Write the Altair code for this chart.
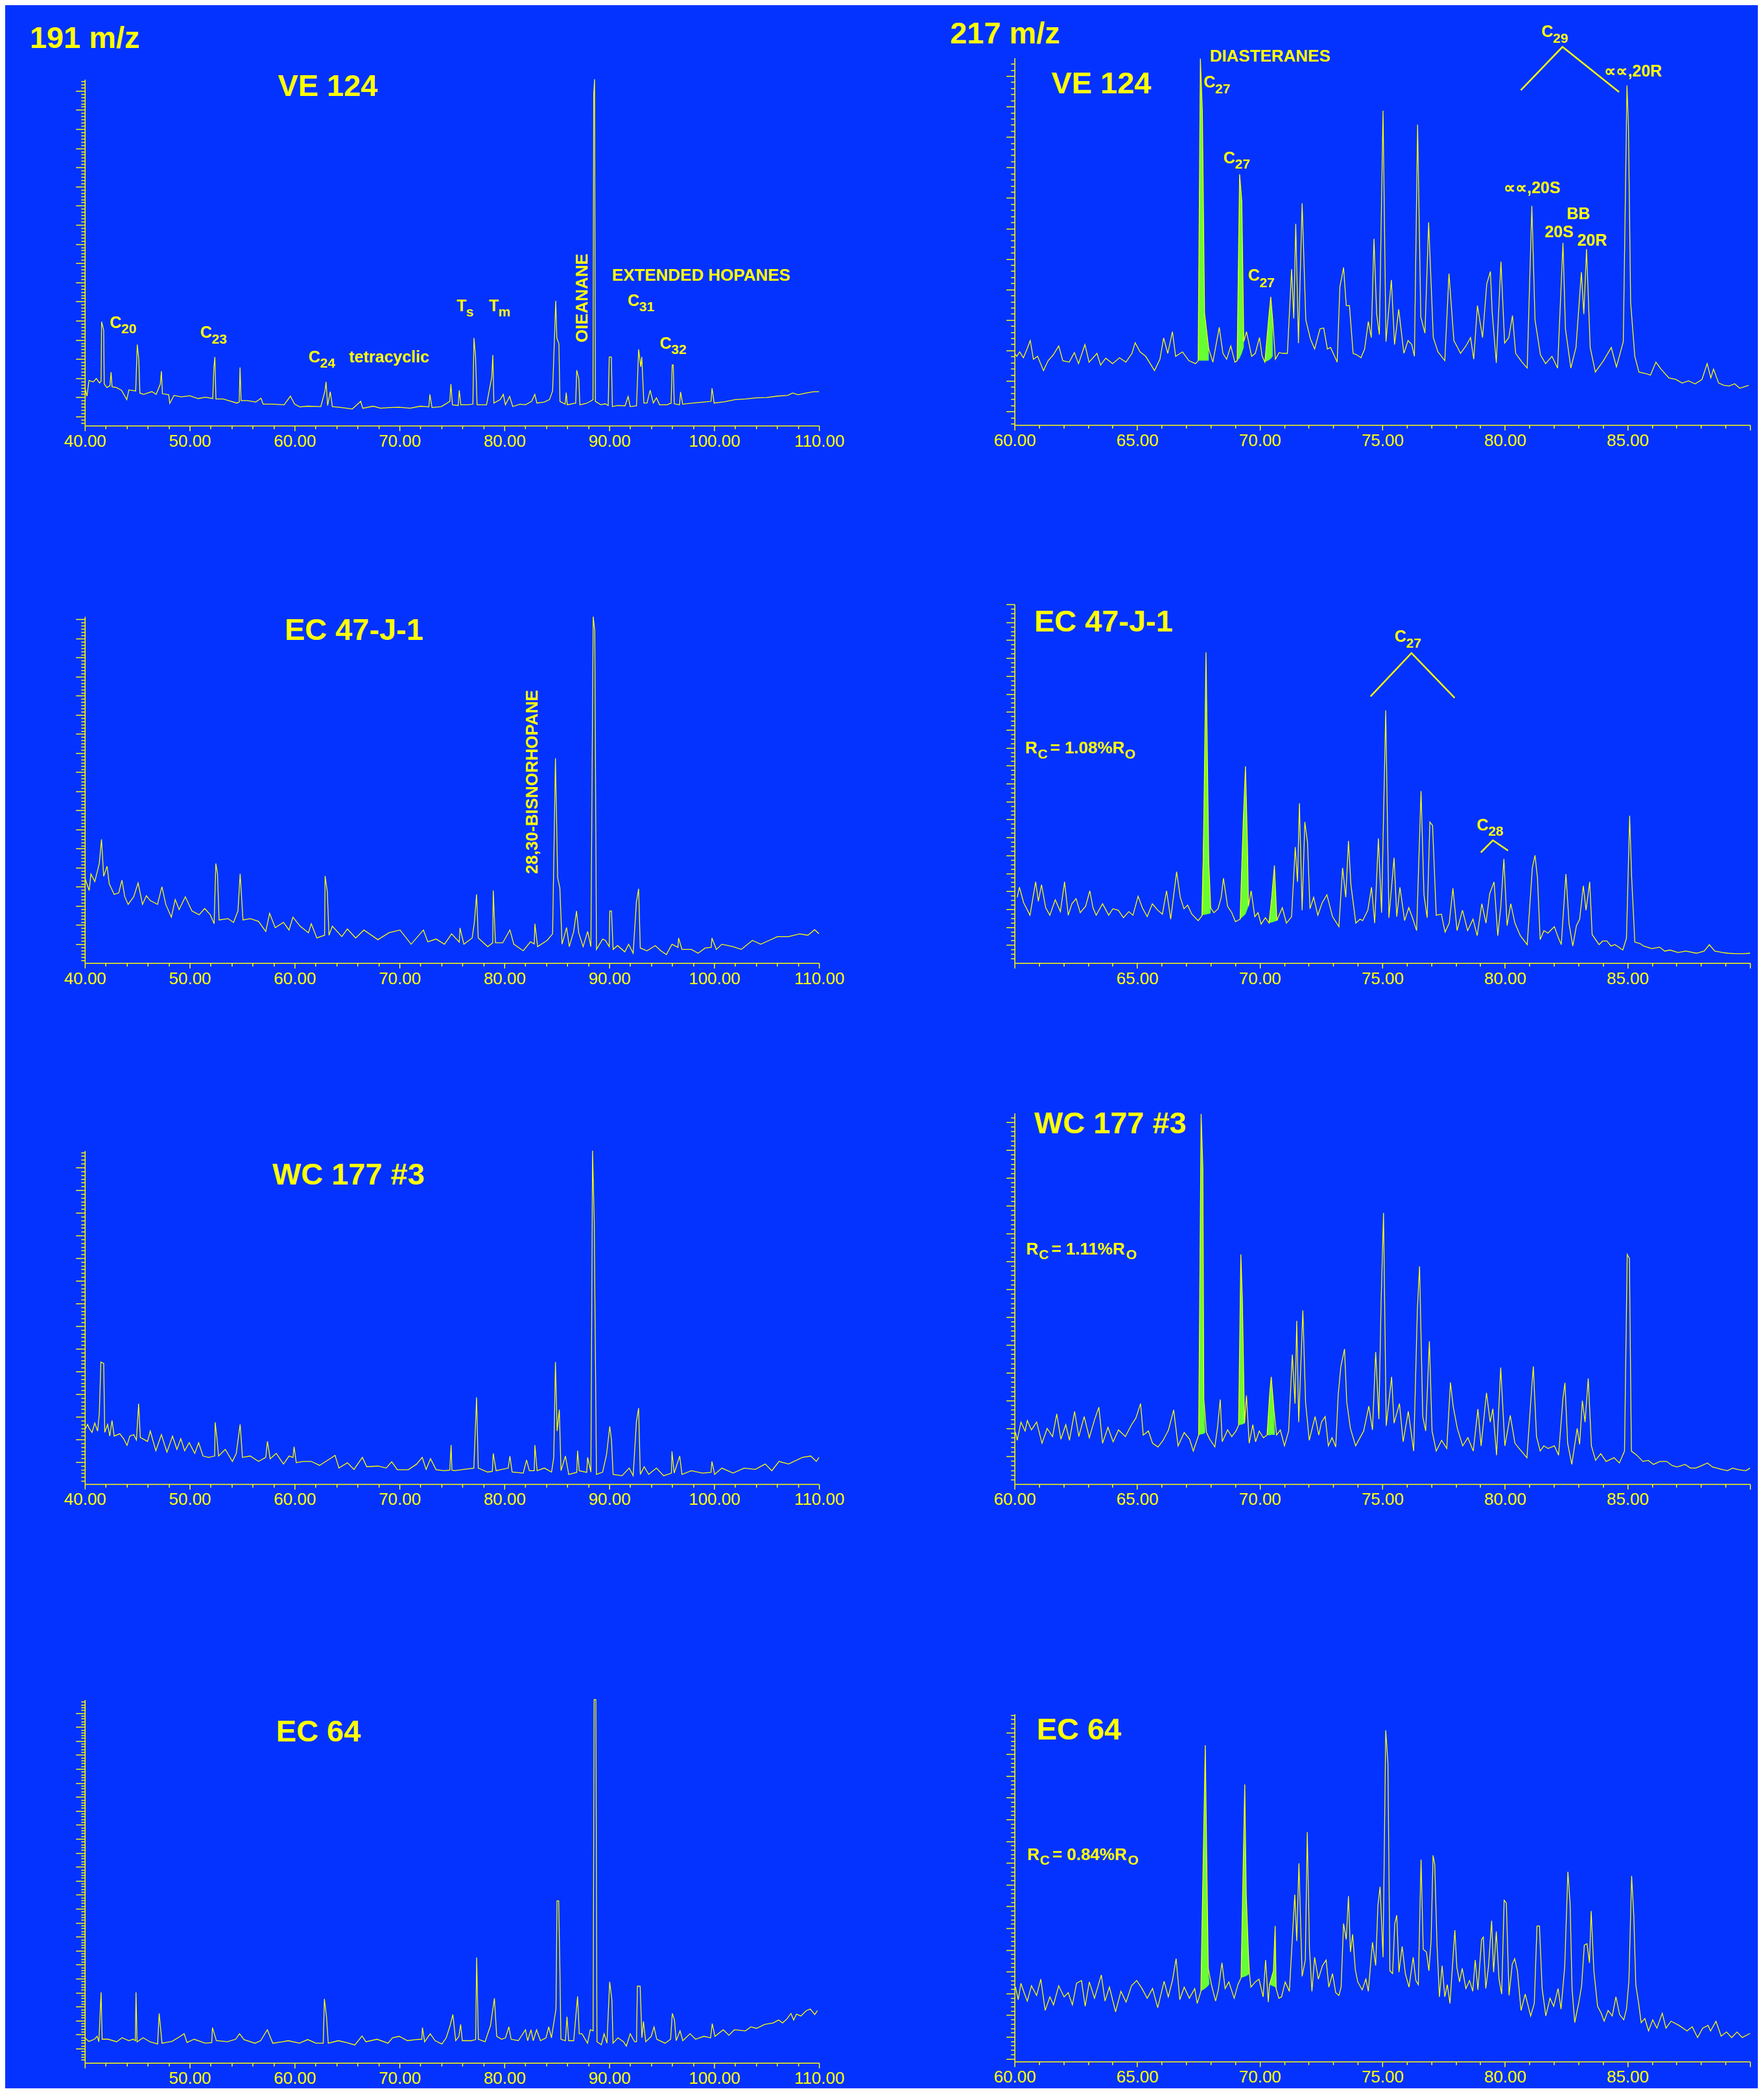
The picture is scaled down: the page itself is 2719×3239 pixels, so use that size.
import altair as alt
import pandas as pd

BLUE = "#0433FF"
YEL = "#FFFF00"
GREEN = "#66FF33"
FONT = "Liberation Sans, Arial, Helvetica, sans-serif"

# ---------------- 191 m/z traces (retention time, relative intensity %) ----------------
L1 = [(40.0,11.0),(40.2,8.5),(40.4,13.0),(40.8,12.6),(41.1,13.6),(41.4,12.3),(41.55,12.8),(41.6,30.0),(41.8,27.5),(41.85,12.0),
(42.1,11.0),(42.4,11.5),(42.5,15.4),(42.6,11.2),(43.0,11.0),(43.5,10.2),(44.0,7.5),(44.2,10.3),(44.85,10.0),(45.0,23.4),
(45.15,19.0),(45.25,9.4),(45.6,9.0),(46.0,9.4),(46.4,9.8),(46.8,9.0),(47.2,12.0),(47.3,15.7),(47.4,9.2),(48.0,8.9),
(48.1,6.4),(48.5,8.7),(49.2,8.3),(50.0,8.6),(50.8,7.8),(51.5,8.2),(52.2,7.8),(52.3,16.5),(52.4,19.8),(52.5,7.7),
(53.2,7.7),(53.6,7.3),(54.5,6.5),(54.72,6.8),(54.8,16.8),(54.9,7.2),(55.5,7.2),(56.3,6.8),(56.8,7.9),(57.0,6.2),
(58.0,6.2),(59.0,6.0),(59.6,8.5),(60.0,6.2),(60.5,5.4),(61.2,5.6),(62.5,5.5),(62.9,10.0),(63.0,12.6),(63.15,5.8),
(63.4,9.8),(63.6,5.5),(64.5,5.2),(65.5,4.8),(66.3,7.0),(66.5,5.0),(67.5,5.6),(68.2,5.0),(69.0,5.2),(70.0,5.3),
(71.0,5.0),(72.0,5.6),(72.8,5.4),(72.9,9.0),(73.1,5.2),(74.0,5.5),(74.8,7.0),(74.9,12.0),(75.05,6.0),(75.6,5.8),
(75.7,10.2),(75.85,6.0),(76.5,6.0),(77.0,6.2),(77.1,25.3),(77.25,20.0),(77.4,6.0),(78.3,6.0),(78.8,14.0),(78.9,20.4),
(79.0,6.5),(79.6,7.5),(79.9,9.0),(80.1,6.0),(80.5,8.4),(80.8,5.5),(81.5,6.2),(82.0,6.0),(82.6,7.0),(82.9,9.0),
(83.1,6.5),(83.8,6.8),(84.3,7.5),(84.6,10.0),(84.9,36.0),(85.0,25.3),(85.2,23.6),(85.3,7.0),(85.8,6.2),(85.9,9.5),
(86.0,6.0),(86.8,6.5),(86.9,16.0),(87.1,13.5),(87.2,6.0),(87.8,6.4),(88.2,7.0),(88.45,7.5),(88.52,95.6),(88.6,100.0),
(88.68,7.0),(89.2,6.0),(89.6,6.3),(89.9,5.8),(90.0,19.8),(90.2,19.8),(90.3,5.5),(90.8,5.8),(91.5,5.7),(91.8,8.4),
(92.0,5.5),(92.6,5.7),(92.8,22.0),(93.0,17.0),(93.1,19.8),(93.3,6.5),(93.6,6.5),(93.9,10.2),(94.2,6.5),(94.5,8.0),
(94.8,6.0),(95.5,6.0),(95.9,6.5),(96.0,17.5),(96.1,17.5),(96.2,6.3),(96.7,6.0),(96.8,9.7),(97.0,6.2),(98.0,6.5),
(99.0,6.8),(99.7,7.0),(99.8,10.8),(100.0,6.5),(101.0,6.9),(102.0,7.5),(103.0,7.7),(104.0,8.0),(105.0,8.1),(106.0,8.5),
(107.0,8.7),(107.5,9.4),(108.0,8.9),(108.8,9.4),(109.5,9.8),(110.0,9.8)]

L2 = [(40.0,24.6),(40.16,23.1),(40.42,20.9),(40.58,25.7),(40.95,23.5),(41.38,28.7),(41.59,35.7),(41.8,25.0),(42.12,27.9),(42.33,22.8),
(42.8,19.8),(43.23,20.2),(43.54,23.9),(43.81,19.1),(44.13,16.9),(44.66,19.1),(45.08,23.1),(45.5,16.9),(45.87,19.4),(46.24,18.0),
(46.93,16.9),(47.35,22.0),(47.72,16.9),(48.25,13.2),(48.62,18.3),(48.99,15.4),(49.58,19.1),(50.21,15.0),(50.9,13.9),(51.43,15.7),
(51.96,13.9),(52.33,11.3),(52.49,28.7),(52.65,25.7),(52.8,12.4),(53.65,12.8),(54.18,11.7),(54.6,15.0),(54.81,25.7),(55.08,12.4),
(55.77,12.8),(56.56,12.0),(57.25,9.1),(57.62,14.3),(58.15,10.2),(58.94,11.7),(59.47,9.5),(59.84,13.2),(60.53,10.6),(61.32,8.7),
(61.59,11.3),(62.12,7.2),(62.86,8.0),(62.91,25.1),(63.12,20.5),(63.28,8.0),(63.6,10.6),(64.5,7.6),(65.03,9.8),(65.82,7.2),
(66.61,9.5),(67.94,6.7),(69.0,8.7),(70.05,9.5),(71.11,5.4),(72.28,9.5),(72.7,6.1),(73.49,6.9),(74.29,5.4),(74.97,8.4),
(75.7,6.0),(75.77,10.1),(76.14,5.4),(76.93,7.2),(77.14,11.7),(77.35,19.8),(77.51,7.2),(78.41,4.7),(78.89,5.8),(78.94,20.9),
(79.15,5.8),(79.84,5.8),(80.53,9.5),(80.9,5.4),(81.8,3.5),(82.49,6.1),(82.85,5.5),(82.91,11.3),(83.17,4.7),(84.07,6.5),
(84.6,8.4),(84.87,59.1),(85.08,24.6),(85.29,21.7),(85.5,5.4),(85.93,10.2),(86.19,4.7),(86.61,9.1),(86.88,15.0),(87.09,8.7),
(87.51,4.7),(87.94,9.1),(88.25,4.7),(88.47,100.0),(88.62,95.9),(88.78,3.9),(89.37,6.9),(89.63,6.5),(90.0,4.7),(90.05,15.0),
(90.21,15.0),(90.37,3.9),(90.79,5.0),(91.48,3.2),(91.85,5.4),(92.28,2.8),(92.59,17.6),(92.8,21.4),(92.96,4.3),(93.6,3.5),
(94.39,5.0),(94.92,3.5),(95.45,2.4),(95.98,5.4),(96.55,4.5),(96.61,7.2),(96.93,3.9),(97.83,3.9),(98.47,2.8),(99.15,4.3),
(99.72,4.5),(99.79,7.2),(100.21,3.9),(100.74,5.4),(101.8,4.7),(102.59,3.9),(103.65,6.5),(104.44,5.4),(105.24,6.5),(106.03,7.6),
(107.09,7.6),(108.15,8.4),(108.94,8.0),(109.58,9.6),(110.0,8.4)]

L3 = [(40.0,16.3),(40.26,17.9),(40.42,16.7),(40.69,15.5),(40.95,18.3),(41.22,15.9),(41.38,21.1),(41.53,36.6),(41.8,36.2),(41.9,15.5),
(42.17,17.9),(42.38,14.4),(42.59,19.1),(42.8,14.4),(43.33,15.1),(43.7,13.6),(44.02,11.6),(44.29,14.4),(44.66,14.8),(44.92,13.2),
(45.13,24.1),(45.29,14.0),(45.98,12.8),(46.24,15.9),(46.77,10.0),(47.3,14.8),(47.83,9.6),(48.36,14.4),(48.78,10.4),(49.15,13.6),
(49.52,10.0),(49.95,12.4),(50.48,9.2),(50.85,12.4),(51.27,8.4),(51.8,8.0),(52.38,8.4),(52.43,18.5),(52.59,14.0),(52.75,8.4),
(53.39,10.4),(54.07,6.8),(54.44,9.2),(54.81,17.9),(55.03,8.0),(55.77,8.4),(56.56,6.8),(57.25,8.0),(57.41,12.8),(57.67,7.6),
(58.25,9.2),(58.94,6.0),(59.47,8.4),(59.85,8.0),(59.95,11.2),(60.16,6.4),(60.79,6.8),(61.59,6.8),(62.38,5.6),(63.17,7.2),
(63.86,8.6),(64.23,4.8),(65.03,6.4),(65.66,4.4),(66.46,8.0),(66.88,5.2),(67.94,5.4),(68.73,4.8),(69.26,6.7),(69.79,4.3),
(70.85,4.3),(71.64,6.0),(72.17,8.0),(72.54,4.4),(72.96,7.6),(73.49,4.3),(74.29,4.0),(74.8,4.2),(74.92,11.7),(75.0,4.2),
(75.24,4.0),(76.14,4.4),(77.09,4.8),(77.35,26.0),(77.51,4.8),(78.41,3.6),(78.85,3.8),(78.94,9.2),(79.21,4.0),(80.37,4.8),
(80.53,8.4),(80.74,3.6),(81.8,3.3),(82.12,7.2),(82.38,4.0),(82.85,4.0),(82.91,11.7),(83.12,4.0),(83.81,4.8),(84.5,3.6),
(84.71,8.0),(84.87,36.6),(85.03,15.9),(85.24,22.3),(85.4,4.0),(85.82,8.4),(86.14,2.9),(86.9,3.5),(86.98,10.0),(87.14,4.0),
(87.85,3.5),(87.94,8.0),(88.25,3.6),(88.41,100.0),(88.57,78.2),(88.78,2.9),(89.37,3.6),(89.74,8.8),(90.05,17.3),(90.21,13.2),
(90.37,2.9),(91.22,2.5),(91.9,4.8),(92.28,2.5),(92.59,18.7),(92.8,22.8),(92.96,2.9),(93.33,5.2),(93.76,2.9),(94.5,4.8),
(95.19,2.5),(95.93,3.3),(95.98,9.8),(96.19,3.3),(96.72,8.4),(96.93,2.9),(97.83,4.0),(98.89,3.3),(99.7,3.5),(99.79,6.8),
(100.05,2.9),(100.74,4.8),(101.8,3.3),(102.86,4.8),(103.92,4.4),(104.87,6.0),(105.5,4.0),(106.19,6.8),(107.09,6.0),(108.41,8.0),
(109.21,8.4),(109.74,6.8),(110.0,8.0)]

L4 = [(40.0,6.9),(40.39,5.9),(40.91,6.5),(41.18,7.3),(41.34,5.8),(41.55,19.4),(41.65,6.5),(42.23,6.5),(43.03,5.8),(43.56,6.9),
(44.19,6.1),(44.61,6.5),(44.82,6.1),(44.88,19.4),(44.98,5.8),(45.56,6.9),(46.2,5.8),(46.94,5.2),(47.09,13.6),(47.36,5.4),
(48.31,5.9),(49.1,7.3),(49.47,8.0),(49.74,5.6),(50.42,6.5),(51.48,5.4),(52.1,5.6),(52.17,9.7),(52.54,6.1),(53.59,5.8),
(54.38,6.5),(54.75,8.0),(55.18,6.4),(56.23,5.4),(56.76,6.1),(57.4,9.1),(57.92,5.4),(58.87,5.8),(59.4,6.1),(60.46,5.4),
(61.25,6.4),(62.04,5.4),(62.73,5.4),(62.84,17.6),(63.05,12.5),(63.21,5.4),(64.16,6.1),(64.95,5.6),(65.74,4.9),(66.43,7.4),
(66.8,5.8),(67.86,6.5),(68.91,5.4),(69.33,6.9),(69.97,7.3),(70.76,6.1),(71.55,6.4),(72.13,6.5),(72.19,9.7),(72.4,5.8),
(72.93,8.0),(73.4,6.1),(74.04,5.2),(74.46,6.9),(74.83,10.3),(75.09,13.3),(75.36,6.1),(75.67,7.3),(75.83,10.6),(75.99,6.1),
(76.84,6.1),(77.26,6.4),(77.36,29.0),(77.52,6.5),(78.16,5.8),(78.68,10.3),(79.05,17.8),(79.27,7.3),(79.74,6.5),(80.11,6.9),
(80.43,9.9),(80.64,6.5),(81.33,6.1),(82.01,9.1),(82.22,6.1),(82.54,9.1),(82.75,6.1),(83.07,9.1),(83.44,6.1),(83.97,6.9),
(84.23,9.9),(84.49,6.9),(84.92,14.8),(85.02,44.6),(85.18,44.6),(85.29,26.8),(85.39,6.5),(85.82,6.1),(85.97,12.7),(86.13,6.1),
(86.61,6.1),(86.98,18.3),(87.14,8.0),(87.4,8.0),(87.93,5.4),(88.19,9.1),(88.46,8.8),(88.56,100.0),(88.72,100.0),(88.83,5.8),
(89.25,5.0),(89.51,8.0),(89.78,5.4),(90.04,22.3),(90.25,17.4),(90.36,5.4),(90.83,6.9),(91.36,5.8),(91.63,4.6),(92.0,8.0),
(92.42,5.8),(92.6,5.8),(92.68,21.1),(92.95,21.1),(93.11,6.9),(93.26,11.4),(93.48,5.8),(94.0,7.3),(94.27,9.9),(94.53,6.5),
(95.32,5.4),(95.85,6.5),(96.01,13.6),(96.22,11.8),(96.38,6.1),(96.75,8.8),(97.01,6.1),(97.7,8.0),(98.23,6.5),(99.02,7.3),
(99.66,6.9),(99.82,10.8),(100.08,7.3),(100.87,9.1),(101.4,7.6),(101.93,9.1),(102.99,8.8),(103.51,9.9),(104.04,9.5),(104.83,10.6),
(105.63,11.0),(106.15,11.8),(106.52,11.0),(106.95,12.1),(107.32,13.6),(107.58,11.8),(107.85,13.4),(108.27,12.9),(108.8,14.4),(109.17,14.8),
(109.59,13.3),(109.85,14.4)]

# ---------------- 217 m/z traces ----------------
R1 = [(60.0,19.5),(60.09,18.7),(60.21,19.9),(60.36,18.3),(60.51,20.7),(60.64,23.0),(60.77,17.9),(60.94,18.7),(61.18,14.8),(61.37,17.5),
(61.58,19.1),(61.8,21.5),(61.97,17.5),(62.23,17.1),(62.44,19.7),(62.61,16.7),(62.87,21.9),(63.04,17.1),(63.36,19.5),(63.51,16.3),
(63.72,18.2),(64.0,16.7),(64.28,18.3),(64.54,17.1),(64.79,19.5),(64.92,22.4),(65.12,19.9),(65.35,18.7),(65.71,14.8),(65.93,17.9),
(66.08,23.7),(66.25,19.5),(66.44,25.4),(66.57,18.7),(66.85,19.9),(67.11,17.5),(67.38,16.7),(67.49,17.5),(67.58,99.8),(67.66,85.4),
(67.75,30.5),(67.92,20.7),(68.09,17.1),(68.35,26.6),(68.5,19.5),(68.65,17.9),(68.82,21.5),(68.99,17.1),(69.08,17.5),(69.18,68.3),
(69.27,60.9),(69.35,22.7),(69.46,25.4),(69.67,18.7),(69.82,19.5),(69.99,23.8),(70.1,18.7),(70.21,17.1),(70.36,28.6),(70.45,34.9),
(70.53,28.6),(70.64,17.9),(70.79,19.7),(70.96,19.5),(71.13,19.5),(71.3,42.4),(71.39,29.0),(71.47,54.8),(71.58,22.3),(71.73,60.4),
(71.88,28.6),(72.07,23.4),(72.24,20.7),(72.46,26.2),(72.61,26.4),(72.76,20.7),(72.89,21.1),(73.16,17.1),(73.27,37.6),(73.42,42.9),
(73.53,32.5),(73.66,32.5),(73.81,19.5),(73.96,19.1),(74.13,18.3),(74.28,20.7),(74.43,28.2),(74.55,23.8),(74.66,50.7),(74.77,30.2),
(74.88,24.6),(75.03,85.6),(75.15,22.7),(75.37,39.5),(75.5,21.9),(75.67,31.5),(75.88,19.5),(76.05,23.0),(76.2,21.9),(76.31,18.7),
(76.44,81.8),(76.57,29.4),(76.74,25.0),(76.89,55.2),(77.08,23.8),(77.27,19.9),(77.55,17.5),(77.72,41.2),(77.92,23.0),(78.07,21.1),
(78.19,19.5),(78.41,21.5),(78.6,23.8),(78.73,17.9),(78.88,32.5),(79.09,23.8),(79.26,38.4),(79.41,41.8),(79.48,30.9),(79.65,16.9),
(79.84,44.5),(79.99,22.3),(80.16,23.8),(80.31,29.8),(80.44,19.5),(80.7,17.1),(80.91,15.5),(81.1,59.7),(81.23,28.6),(81.45,19.1),
(81.66,16.7),(81.92,18.7),(82.15,15.5),(82.37,49.6),(82.47,26.2),(82.69,15.5),(82.9,21.1),(83.12,41.6),(83.22,30.2),(83.33,47.9),
(83.48,21.1),(83.69,14.4),(84.02,17.5),(84.34,21.1),(84.55,15.8),(84.83,22.7),(84.98,92.5),(85.04,81.5),(85.13,33.3),(85.3,18.7),
(85.47,14.4),(85.73,14.0),(85.94,13.6),(86.16,17.1),(86.37,15.2),(86.69,12.8),(86.97,12.4),(87.23,11.4),(87.49,12.0),(87.76,11.2),
(88.04,12.4),(88.25,16.7),(88.4,12.8),(88.51,15.2),(88.72,11.4),(88.94,10.8),(89.15,10.6),(89.37,11.2),(89.58,10.0),(89.94,10.8)]

R2 = [(60.11,18.3),(60.2,21.1),(60.37,16.8),(60.63,13.3),(60.86,22.6),(60.97,17.2),(61.1,21.8),(61.27,15.4),(61.44,13.3),(61.66,17.6),
(61.87,14.3),(62.04,22.6),(62.19,13.3),(62.34,16.5),(62.51,17.9),(62.68,14.0),(62.9,15.8),(63.07,20.1),(63.2,15.4),(63.33,13.3),
(63.59,16.5),(63.84,13.3),(64.01,15.1),(64.23,14.7),(64.44,12.6),(64.66,14.3),(64.83,13.3),(65.04,18.6),(65.21,15.4),(65.41,12.9),
(65.62,16.5),(65.84,14.7),(66.03,13.6),(66.2,20.1),(66.37,12.2),(66.61,25.4),(66.76,18.3),(66.91,15.1),(67.06,16.1),(67.23,13.6),
(67.49,11.8),(67.66,13.3),(67.72,39.7),(67.81,86.6),(67.92,28.3),(68.0,15.4),(68.13,14.0),(68.3,15.1),(68.43,18.3),(68.52,23.6),
(68.69,15.8),(68.86,14.0),(69.01,11.5),(69.2,12.2),(69.33,39.7),(69.42,54.8),(69.5,32.5),(69.54,15.8),(69.65,20.1),(69.8,12.9),
(69.93,14.0),(70.06,10.8),(70.23,12.6),(70.38,11.1),(70.49,18.3),(70.6,27.2),(70.7,11.8),(70.92,15.4),(71.09,11.1),(71.3,12.9),
(71.45,32.3),(71.54,22.6),(71.62,44.5),(71.73,14.7),(71.84,39.3),(71.95,33.6),(72.05,15.1),(72.2,18.3),(72.37,13.3),(72.55,16.8),
(72.74,19.0),(72.97,12.9),(73.23,10.1),(73.38,26.5),(73.51,18.3),(73.62,34.0),(73.72,21.8),(73.92,11.1),(74.09,12.2),(74.2,11.8),
(74.41,14.7),(74.56,21.1),(74.69,11.1),(74.84,34.7),(74.97,14.0),(75.14,70.4),(75.27,12.6),(75.48,29.3),(75.59,12.9),(75.72,21.1),
(75.91,11.8),(76.08,15.4),(76.23,12.6),(76.4,9.0),(76.58,47.9),(76.7,19.0),(76.83,12.6),(76.94,39.3),(77.05,38.3),(77.2,13.3),
(77.41,13.6),(77.56,8.6),(77.73,11.1),(77.88,20.8),(78.05,9.0),(78.27,14.7),(78.48,9.0),(78.7,12.2),(78.87,7.6),(79.06,16.5),
(79.23,11.1),(79.38,19.3),(79.56,22.6),(79.71,7.6),(79.83,15.4),(79.96,29.0),(80.09,10.4),(80.24,16.5),(80.41,11.1),(80.63,7.6),
(80.91,5.1),(81.12,26.5),(81.23,30.0),(81.33,23.6),(81.44,6.5),(81.59,9.0),(81.76,8.3),(81.91,9.4),(82.02,10.1),(82.17,7.2),
(82.3,5.1),(82.49,24.8),(82.62,10.8),(82.77,4.7),(82.92,10.4),(83.05,12.2),(83.2,21.5),(83.31,14.7),(83.46,22.6),(83.56,7.9),
(83.84,5.1),(83.99,6.1),(84.16,6.1),(84.33,4.7),(84.49,5.1),(84.81,3.6),(84.96,6.9),(85.09,41.0),(85.17,24.0),(85.3,5.8),
(85.51,5.4),(85.66,4.7),(85.99,4.0),(86.31,4.4),(86.52,3.3),(86.74,3.6),(87.06,2.9),(87.38,3.3),(87.81,2.7),(88.13,3.3),
(88.34,5.1),(88.56,3.3),(88.88,2.9),(89.09,2.7),(89.42,2.6),(89.74,2.6),(90.0,2.7)]

R3 = [(60.04,13.9),(60.11,11.8),(60.26,16.7),(60.43,14.3),(60.52,17.1),(60.69,14.6),(60.9,16.7),(61.12,11.0),(61.33,15.0),(61.55,12.8),
(61.72,18.9),(61.89,12.1),(62.09,16.0),(62.24,11.8),(62.45,19.6),(62.62,12.8),(62.84,18.2),(63.05,12.5),(63.27,17.5),(63.44,20.7),
(63.59,11.0),(63.81,15.3),(64.02,11.4),(64.24,14.6),(64.52,12.8),(64.77,16.0),(64.95,17.8),(65.14,21.7),(65.25,13.2),(65.46,14.3),
(65.63,11.0),(65.85,10.0),(66.06,11.8),(66.28,14.6),(66.49,20.0),(66.67,10.3),(66.92,13.9),(67.14,12.1),(67.29,8.9),(67.51,13.2),
(67.61,99.8),(67.68,85.2),(67.72,22.8),(67.83,13.9),(67.96,12.1),(68.17,10.0),(68.28,15.3),(68.39,22.8),(68.47,11.4),(68.69,14.6),
(68.86,12.8),(69.03,14.3),(69.14,15.9),(69.23,61.9),(69.29,50.2),(69.38,16.4),(69.46,23.9),(69.57,11.0),(69.72,16.0),(69.83,11.4),
(69.98,14.3),(70.15,12.5),(70.3,13.2),(70.41,24.6),(70.47,28.9),(70.58,20.0),(70.69,13.2),(70.84,14.6),(71.01,10.3),(71.18,14.3),
(71.33,34.9),(71.44,21.7),(71.51,44.0),(71.59,16.7),(71.76,46.8),(71.87,22.1),(72.02,11.8),(72.26,18.2),(72.41,13.2),(72.52,16.7),
(72.67,18.2),(72.8,10.3),(72.95,12.5),(73.1,10.0),(73.2,23.9),(73.31,31.7),(73.46,36.4),(73.55,22.1),(73.7,15.0),(73.91,10.3),
(74.24,14.3),(74.45,21.0),(74.6,14.6),(74.73,35.6),(74.86,17.5),(74.95,48.8),(75.05,73.1),(75.16,15.7),(75.38,28.9),(75.48,16.4),
(75.7,21.7),(75.85,11.4),(76.06,19.6),(76.28,8.9),(76.43,47.0),(76.52,58.7),(76.65,18.2),(76.77,14.3),(76.92,38.5),(77.03,14.3),
(77.2,8.9),(77.42,11.8),(77.63,9.6),(77.78,27.4),(77.89,21.0),(78.06,15.0),(78.28,10.3),(78.49,12.5),(78.71,8.9),(78.9,20.2),
(79.03,10.3),(79.25,24.6),(79.4,16.7),(79.51,20.3),(79.66,7.8),(79.83,31.4),(80.0,10.3),(80.22,18.5),(80.41,11.0),(80.62,9.3),
(80.9,7.1),(81.08,24.6),(81.16,31.7),(81.29,12.8),(81.44,8.9),(81.59,10.3),(81.76,9.6),(82.02,10.3),(82.19,7.8),(82.37,23.2),
(82.45,27.3),(82.56,11.0),(82.73,5.3),(82.95,15.0),(83.05,10.7),(83.16,22.5),(83.27,16.7),(83.4,28.5),(83.53,10.3),(83.7,6.4),
(83.91,8.2),(84.13,6.1),(84.45,7.1),(84.67,5.7),(84.88,8.9),(84.99,61.9),(85.08,60.8),(85.16,8.9),(85.38,7.8),(85.63,6.1),
(85.85,6.4),(86.06,5.3),(86.32,6.1),(86.6,6.1),(86.82,5.0),(87.03,4.6),(87.35,5.3),(87.57,4.3),(87.78,4.3),(88.04,5.0),
(88.26,5.7),(88.47,4.6),(88.65,4.3),(88.86,3.9),(89.08,3.6),(89.29,4.3),(89.51,3.9),(89.83,3.6),(90.0,4.3)]

R4 = [(60.04,21.4),(60.15,17.8),(60.26,22.5),(60.39,19.8),(60.52,17.4),(60.69,21.8),(60.9,19.0),(61.07,23.7),(61.25,14.7),(61.44,18.6),
(61.59,16.3),(61.8,21.8),(62.02,18.6),(62.19,19.8),(62.36,16.3),(62.53,22.5),(62.73,23.3),(62.88,15.9),(63.05,22.9),(63.26,18.2),
(63.54,24.9),(63.69,17.4),(63.87,21.4),(64.12,14.3),(64.34,20.2),(64.55,17.1),(64.77,21.8),(64.98,23.3),(65.2,21.0),(65.41,18.2),
(65.63,21.0),(65.84,15.5),(66.1,23.1),(66.27,18.6),(66.44,23.3),(66.59,29.6),(66.74,17.8),(66.92,21.4),(67.13,18.2),(67.35,21.0),
(67.45,16.7),(67.6,20.2),(67.78,91.0),(67.84,57.4),(67.9,26.8),(68.03,22.1),(68.2,17.4),(68.31,20.6),(68.46,28.4),(68.59,21.0),
(68.74,22.9),(68.96,18.2),(69.11,22.1),(69.24,24.1),(69.39,79.7),(69.45,48.0),(69.54,30.8),(69.58,25.3),(69.64,21.4),(69.82,22.9),
(69.97,23.7),(70.14,18.6),(70.24,29.2),(70.35,17.1),(70.4,22.1),(70.56,26.1),(70.63,39.0),(70.67,21.0),(70.78,18.2),(70.89,18.6),
(71.04,22.9),(71.21,20.2),(71.43,48.0),(71.51,34.7),(71.6,57.0),(71.73,24.5),(71.86,29.2),(71.94,66.0),(72.03,32.3),(72.13,20.2),
(72.24,30.0),(72.39,23.7),(72.56,27.6),(72.71,29.2),(72.82,21.4),(72.97,25.3),(73.1,19.8),(73.23,19.0),(73.32,21.4),(73.42,39.7),
(73.53,35.1),(73.62,47.6),(73.7,31.5),(73.79,36.6),(73.9,26.4),(74.0,22.9),(74.18,20.6),(74.33,23.7),(74.43,20.2),(74.6,34.3),
(74.73,27.6),(74.82,44.8),(74.91,50.3),(75.03,30.0),(75.14,95.3),(75.23,85.9),(75.31,26.1),(75.42,25.3),(75.51,39.7),(75.59,42.1),
(75.68,25.7),(75.81,33.1),(75.94,25.3),(76.09,21.4),(76.26,30.0),(76.37,23.3),(76.47,22.1),(76.58,58.1),(76.67,32.3),(76.8,31.5),
(76.9,26.1),(76.99,34.7),(77.07,59.3),(77.14,56.6),(77.23,33.9),(77.33,18.6),(77.44,27.6),(77.55,18.6),(77.65,22.1),(77.76,16.7),
(77.96,37.8),(78.04,27.2),(78.15,22.9),(78.26,26.8),(78.41,21.0),(78.56,23.3),(78.69,20.2),(78.79,29.2),(78.9,20.6),(79.05,35.1),
(79.12,35.8),(79.22,21.0),(79.33,27.2),(79.46,40.5),(79.54,25.7),(79.65,37.4),(79.76,23.7),(79.87,19.4),(79.97,46.4),(80.06,45.6),
(80.17,19.0),(80.3,28.0),(80.4,29.6),(80.51,26.1),(80.66,14.7),(80.83,19.4),(81.05,13.1),(81.2,16.7),(81.31,39.0),(81.41,39.0),
(81.52,21.0),(81.67,13.1),(81.84,18.2),(81.99,15.9),(82.17,21.0),(82.29,15.1),(82.44,27.2),(82.57,54.6),(82.66,45.6),(82.74,21.0),
(82.85,11.2),(83.02,17.1),(83.13,21.8),(83.24,33.5),(83.35,33.9),(83.45,28.4),(83.52,43.3),(83.63,26.1),(83.78,15.9),(83.93,13.9),
(84.05,11.6),(84.21,14.7),(84.38,13.1),(84.53,18.6),(84.68,13.5),(84.85,12.0),(84.96,15.1),(85.06,23.3),(85.17,53.4),(85.26,41.7),
(85.34,22.1),(85.45,17.1),(85.56,11.2),(85.71,12.4),(85.86,8.8),(86.03,12.0),(86.2,9.6),(86.42,13.9),(86.57,9.6),(86.78,11.6),
(87.1,10.4),(87.43,8.8),(87.64,10.0),(87.86,6.9),(88.07,9.6),(88.29,10.4),(88.39,8.8),(88.61,11.6),(88.82,7.3),(89.04,8.5),
(89.25,6.9),(89.47,8.5),(89.68,6.9),(90.0,8.1)]

# green-shaded peaks: (group, time, upper, lower)
R1_GREEN = [(1,67.49,17.5,17.5),(1,67.58,99.8,17.5),(1,67.66,85.4,17.5),(1,67.75,30.5,17.5),(1,67.92,20.7,17.5),
            (2,69.08,17.5,17.5),(2,69.18,68.3,18.2),(2,69.27,60.9,19.5),(2,69.35,22.7,21.2),
            (3,70.21,17.1,17.1),(3,70.36,28.6,17.6),(3,70.45,34.9,18.0),(3,70.53,28.6,18.7)]
R2_GREEN = [(1,67.62,13.3,13.3),(1,67.72,39.7,13.4),(1,67.81,86.6,13.5),(1,67.92,28.3,13.7),(1,68.0,15.4,13.8),
            (2,69.2,12.2,12.2),(2,69.33,39.7,13.0),(2,69.42,54.8,13.6),(2,69.5,32.5,15.0),(2,69.54,15.8,15.8),
            (3,70.38,11.1,11.1),(3,70.49,18.3,11.3),(3,70.6,27.2,11.5),(3,70.7,11.8,11.8)]
R3_GREEN = [(1,67.51,13.2,13.2),(1,67.61,99.8,13.4),(1,67.68,85.2,13.5),(1,67.72,22.8,13.6),(1,67.78,13.9,13.9),
            (2,69.14,15.9,15.9),(2,69.23,61.9,16.0),(2,69.29,50.2,16.1),(2,69.38,16.4,16.4),
            (3,70.3,13.2,13.2),(3,70.41,24.6,13.2),(3,70.47,28.9,13.3),(3,70.58,20.0,13.3),(3,70.62,13.3,13.3)]
R4_GREEN = [(1,67.6,20.2,20.2),(1,67.78,91.0,21.0),(1,67.84,57.4,21.4),(1,67.9,26.8,21.8),(1,67.95,22.3,22.3),
            (2,69.24,24.1,24.1),(2,69.39,79.7,24.4),(2,69.45,48.0,24.6),(2,69.54,30.8,25.0),(2,69.58,25.3,25.3),
            (3,70.4,22.1,22.1),(3,70.56,26.1,21.6),(3,70.63,39.0,21.4),(3,70.67,21.0,21.0)]

# annotations: (time, intensity, text, font size, angle)
L1_TXT = [(34.75,109.0,"191 m/z",47,0),(58.4,95.2,"VE 124",47,0),
          (42.38,28.2,"C",25,0),(43.48,26.7,"20",21,0),
          (51.0,25.3,"C",25,0),(52.1,23.6,"23",21,0),
          (61.32,18.2,"C",25,0),(62.42,16.7,"24",21,0),
          (65.19,18.2,"tetracyclic",25,0),
          (75.45,33.0,"T",25,0),(76.35,31.6,"s",21,0),
          (78.52,33.0,"T",25,0),(79.42,31.6,"m",21,0),
          (87.94,24.0,"OIEANANE",26,270),
          (90.26,41.9,"EXTENDED HOPANES",26,0),
          (91.75,34.5,"C",25,0),(92.85,33.0,"31",21,0),
          (94.81,22.1,"C",25,0),(95.91,20.7,"32",21,0)]
L2_TXT = [(59.05,93.3,"EC 47-J-1",47,0),(83.17,25.7,"28,30-BISNORHOPANE",26,270)]
L3_TXT = [(57.88,89.9,"WC 177 #3",47,0)]
L4_TXT = [(58.24,88.4,"EC 64",47,0)]
R1_TXT = [(57.37,103.9,"217 m/z",47,0),(61.5,90.3,"VE 124",47,0),
          (67.96,99.0,"DIASTERANES",26,0),
          (67.71,91.9,"C",25,0),(68.18,90.3,"27",21,0),
          (68.52,71.3,"C",25,0),(68.99,69.8,"27",21,0),
          (69.52,39.2,"C",25,0),(69.99,37.6,"27",21,0),
          (81.49,105.7,"C",25,0),(81.96,104.1,"29",21,0),
          (84.06,95.0,"∝∝,20R",25,0),(79.95,63.1,"∝∝,20S",25,0),
          (82.52,56.0,"BB",25,0),(81.62,51.2,"20S",25,0),(82.95,48.9,"20R",25,0)]
R2_TXT = [(60.8,92.4,"EC 47-J-1",47,0),
          (75.5,89.6,"C",25,0),(75.97,87.9,"27",21,0),
          (78.85,37.0,"C",25,0),(79.32,35.5,"28",21,0),
          (60.43,58.4,"R",26,0),(60.95,57.0,"C",21,0),(61.45,58.4,"= 1.08%R",26,0),(64.5,57.0,"O",21,0)]
R3_TXT = [(60.8,94.6,"WC 177 #3",47,0),
          (60.47,61.8,"R",26,0),(60.99,60.6,"C",21,0),(61.5,61.8,"= 1.11%R",26,0),(64.55,60.6,"O",21,0)]
R4_TXT = [(60.9,92.7,"EC 64",47,0),
          (60.52,57.9,"R",26,0),(61.03,56.6,"C",21,0),(61.54,57.9,"= 0.84%R",26,0),(64.62,56.6,"O",21,0)]

# bracket lines: (group, time, intensity)
R1_CHEV = [(1,80.65,91.2),(1,82.35,103.0),(1,84.66,90.7)]
R2_CHEV = [(1,74.52,74.3),(1,76.19,86.4),(1,77.95,73.9),(2,79.02,30.8),(2,79.51,34.2),(2,80.13,31.3)]

LEFT_W, RIGHT_W = 1134, 1136
LEFT_SP_W = LEFT_W + 60   # left spacers reach past the "110.00" labels so the column gap is fixed


def ytick_vals(h, major_px, nminor, first_px):
    step = major_px / nminor
    k = -int(first_px / step)
    vals, majors = [], []
    while first_px + k * step <= h + 0.01:
        px = first_px + k * step
        if px >= 0.5:
            v = round(px / h * 100, 3)
            vals.append(v)
            if k % nminor == 0:
                majors.append(v)
        k += 1
    return vals, majors


def panel(trace, w, h, side, ytp, texts, green=None, chev=None, skip_first=False):
    if side == "L":
        xdom = [40, 110]
        xvals = list(range(40, 111, 2))
        cond = "datum.value % 10 === 0"
        if skip_first:
            cond += " && datum.value > 40"
        big = 14
        mtest = "datum.value % 10 === 0"
    else:
        xdom = [60, 90]
        xvals = list(range(60, 91, 1))
        cond = "datum.value % 5 === 0 && datum.value < 90"
        if skip_first:
            cond += " && datum.value > 60"
        big = 13
        mtest = "datum.value % 5 === 0"
    yvals, ymaj = ytick_vals(h, *ytp)
    xaxis = alt.Axis(values=xvals, title=None, grid=False,
                     labelExpr=f"({cond}) ? format(datum.value, '.2f') : ''",
                     labelFlush=False, labelOverlap=False, labelFont=FONT, labelFontSize=26,
                     labelColor=YEL, labelPadding=3, tickColor=YEL, tickWidth=1.5,
                     tickSize={"condition": {"test": mtest, "value": 8}, "value": 5},
                     domainColor=YEL, domainWidth=1.5)
    yaxis = alt.Axis(values=yvals, title=None, grid=False, labels=False,
                     tickColor=YEL, tickWidth=1.5,
                     tickSize={"condition": {"test": f"indexof({ymaj}, datum.value) >= 0", "value": big},
                               "value": 6},
                     domainColor=YEL, domainWidth=1.5)
    xs = alt.Scale(domain=xdom, nice=False, zero=False)
    ys = alt.Scale(domain=[0, 100], nice=False, zero=False)
    X = alt.X("t:Q", scale=xs, axis=xaxis)
    Y = alt.Y("y:Q", scale=ys, axis=yaxis)

    layers = []
    if green:
        gdf = pd.DataFrame(green, columns=["g", "t", "y", "y2"])
        layers.append(alt.Chart(gdf).mark_area(color=GREEN, opacity=1).encode(
            x=X, y=Y, y2="y2:Q", detail="g:N"))
    df = pd.DataFrame(trace, columns=["t", "y"])
    df["i"] = range(len(df))
    layers.append(alt.Chart(df).mark_line(color=YEL, strokeWidth=1.3).encode(
        x=X, y=Y, order="i:Q"))
    if chev:
        cdf = pd.DataFrame(chev, columns=["g", "t", "y"])
        cdf["i"] = range(len(cdf))
        layers.append(alt.Chart(cdf).mark_line(color=YEL, strokeWidth=2.5).encode(
            x=X, y=Y, detail="g:N", order="i:Q"))
    tdf = pd.DataFrame(texts, columns=["t", "y", "text", "size", "angle"])
    layers.append(alt.Chart(tdf).mark_text(align="left", baseline="alphabetic", font=FONT,
                                           fontWeight="bold", color=YEL).encode(
        x=X, y=Y, text="text:N", size=alt.Size("size:Q", scale=None),
        angle=alt.Angle("angle:Q", scale=None)))
    return alt.layer(*layers).properties(width=w, height=h)


def spacer(w, h):
    return alt.Chart(pd.DataFrame({"t": [0]})).mark_point(opacity=0).encode(
        x=alt.X("t:Q", axis=None), y=alt.Y("t:Q", axis=None)).properties(width=w, height=h)


pL1 = panel(L1, LEFT_W, 535, "L", (29.6, 6, 14), L1_TXT)
pL2 = panel(L2, LEFT_W, 535, "L", (29.5, 6, 29), L2_TXT)
pL3 = panel(L3, LEFT_W, 515, "L", (35.0, 6, 34), L3_TXT)
pL4 = panel(L4, LEFT_W, 561, "L", (21.6, 5, 22), L4_TXT, skip_first=True)

pR1 = panel(R1, RIGHT_W, 567, "R", (47.1, 5, 68), R1_TXT, green=R1_GREEN, chev=R1_CHEV)
pR2 = panel(R2, RIGHT_W, 554, "R", (27.7, 4, 27.7), R2_TXT, green=R2_GREEN, chev=R2_CHEV, skip_first=True)
pR3 = panel(R3, RIGHT_W, 573, "R", (43.0, 6, 43), R3_TXT, green=R3_GREEN)
pR4 = panel(R4, RIGHT_W, 537, "R", (33.6, 5, 38), R4_TXT, green=R4_GREEN)

TOP = 62
left = alt.vconcat(spacer(LEFT_SP_W, TOP + 33), pL1, spacer(LEFT_SP_W, 295), pL2, spacer(LEFT_SP_W, 290), pL3,
                   spacer(LEFT_SP_W, 333), pL4, spacing=0, bounds="flush")
right = alt.vconcat(spacer(RIGHT_W, TOP), pR1, spacer(RIGHT_W, 277), pR2, spacer(RIGHT_W, 232), pR3,
                    spacer(RIGHT_W, 355), pR4, spacing=0, bounds="flush")

chart = alt.hconcat(left, right, spacing=142).properties(
    padding={"left": 37, "top": 17, "right": 9, "bottom": 0}
).configure(background=BLUE).configure_view(stroke=None)

chart.save("out.html", embed_options={"renderer": "svg", "actions": False})
